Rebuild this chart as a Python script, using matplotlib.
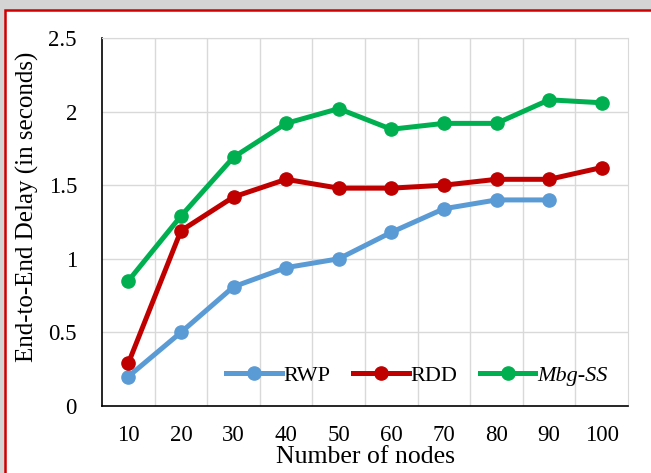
import matplotlib.pyplot as plt
from matplotlib.patches import Rectangle

nodes = [10, 20, 30, 40, 50, 60, 70, 80, 90, 100]
rwp = [0.20, 0.50, 0.81, 0.94, 1.00, 1.18, 1.34, 1.40, 1.40]
rdd = [0.29, 1.19, 1.42, 1.54, 1.48, 1.48, 1.50, 1.54, 1.54, 1.62]
mbg = [0.85, 1.29, 1.69, 1.92, 2.02, 1.88, 1.92, 1.92, 2.08, 2.06]
yticks = [0, 0.5, 1, 1.5, 2, 2.5]
ylabels = ["0", "0.5", "1", "1.5", "2", "2.5"]

plt.rcParams['font.family'] = ['Liberation Serif', 'DejaVu Serif']

W, H = 651, 473
fig = plt.figure(figsize=(W / 100, H / 100), dpi=100)

# grey frame shadow and red border
fig.patches.append(Rectangle((0, 1 - 10 / H), 1, 10 / H, transform=fig.transFigure,
                             color='#d4d4d4', zorder=0))
fig.patches.append(Rectangle((0, 0), 5 / W, 1, transform=fig.transFigure,
                             color='#d4d4d4', zorder=0))
fig.patches.append(Rectangle((5 / W, -0.1), 1.2, 1 - 10 / H + 0.1, transform=fig.transFigure,
                             facecolor='white', edgecolor='#d10000', linewidth=1.8, zorder=1))

ax = fig.add_axes([102 / W, 1 - 406 / H, 526 / W, 368 / H])
ax.set_zorder(2)

pos = list(range(len(nodes)))
ax.plot(pos[:len(rwp)], rwp, color='#5b9bd5', lw=3.6, marker='o', ms=9.5, label='RWP', zorder=3)
ax.plot(pos, rdd, color='#c00000', lw=3.6, marker='o', ms=9.5, label='RDD', zorder=3)
ax.plot(pos, mbg, color='#00b050', lw=3.6, marker='o', ms=9.5, label='Mbg-SS', zorder=3)

ax.set_xlim(-0.5, len(nodes) - 0.5)
ax.set_ylim(0, 2.5)
ax.set_xticks(pos)
ax.set_xticklabels([str(n) for n in nodes], fontsize=16.5)
ax.set_yticks(yticks)
ax.set_yticklabels(ylabels, fontsize=16.5)
ax.tick_params(axis='x', length=0, pad=14)
ax.tick_params(axis='y', length=0, pad=18)

# category boundary grid lines
for b in range(1, len(nodes)):
    ax.axvline(b - 0.5, color='#d9d9d9', lw=1, zorder=1)
for v in yticks[1:]:
    ax.axhline(v, color='#d9d9d9', lw=1, zorder=1)

for s in ['top', 'right']:
    ax.spines[s].set_color('#d9d9d9')
for s in ['left', 'bottom']:
    ax.spines[s].set_color('black')
    ax.spines[s].set_linewidth(1.2)

ax.set_xlabel('Number of nodes', fontsize=18.5, labelpad=0)
ax.set_ylabel('End-to-End Delay (in seconds)', fontsize=18)
ax.yaxis.set_label_coords(-0.12, 0.54)

leg = ax.legend(loc='lower right', bbox_to_anchor=(1.0, 0.0), ncol=3, frameon=False,
                fontsize=16, handlelength=2.5, handletextpad=0.1, columnspacing=1.0)
leg.get_texts()[2].set_style('italic')

fig.savefig('out.png', dpi=100)
